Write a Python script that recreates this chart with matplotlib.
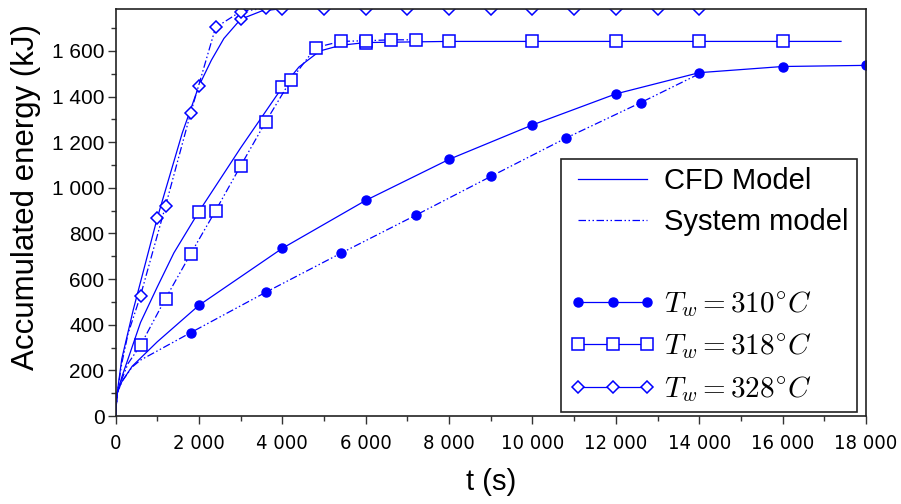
import matplotlib
matplotlib.use("Agg")
import matplotlib.pyplot as plt
from matplotlib.ticker import MultipleLocator, FuncFormatter
from matplotlib.lines import Line2D
from matplotlib import font_manager as fm

plt.rcParams['font.family'] = ['Liberation Sans', 'DejaVu Sans']
plt.rcParams['mathtext.fontset'] = 'cm'

# ---- data (time in s, accumulated energy in kJ) ----
t_cfd_310 = [0, 40, 150, 400, 1000, 2000, 4000, 6000, 8000, 10000, 12000, 14000, 16000, 18000]
e_cfd_310 = [0, 100, 150, 218, 325, 485, 735, 945, 1125, 1276, 1412, 1505, 1532, 1537]
mk_cfd_310 = [2000, 4000, 6000, 8000, 10000, 12000, 14000, 16000, 18000]

t_sys_310 = [0, 40, 150, 400, 600, 1800, 3600, 5400, 7200, 9000, 10800, 12600, 14000]
e_sys_310 = [0, 100, 150, 215, 245, 365, 542, 713, 880, 1050, 1218, 1374, 1500]
mk_sys_310 = [1800, 3600, 5400, 7200, 9000, 10800, 12600]

t_cfd_318 = [0, 40, 150, 300, 600, 1000, 1400, 2000, 3000, 4000, 4400, 4900, 5400, 6000,
             8000, 10000, 12000, 14000, 16000, 17400]
e_cfd_318 = [0, 100, 170, 250, 410, 565, 715, 896, 1175, 1441, 1530, 1600, 1625, 1637,
             1642, 1642, 1642, 1642, 1642, 1642]
mk_cfd_318 = [2000, 4000, 6000, 8000, 10000, 12000, 14000, 16000]

t_sys_318 = [0, 40, 150, 300, 600, 1200, 1800, 2400, 3000, 3600, 4200, 4800, 5400, 6000, 6600, 7200]
e_sys_318 = [0, 100, 160, 230, 310, 515, 710, 900, 1096, 1289, 1471, 1615, 1642, 1645, 1649, 1649]
mk_sys_318 = [600, 1200, 1800, 2400, 3000, 3600, 4200, 4800, 5400, 6000, 6600, 7200]

t_cfd_328 = [0, 40, 150, 425, 1000, 1600, 2000, 2300, 2600, 3000, 3500, 4000, 5000, 6000, 7000,
             8000, 9000, 10000, 11000, 12000, 13000, 14000]
e_cfd_328 = [0, 100, 250, 465, 867, 1240, 1447, 1560, 1655, 1739, 1775, 1786, 1786, 1786, 1786,
             1786, 1786, 1786, 1786, 1786, 1786, 1786]
mk_cfd_328 = [1000, 2000, 3000, 4000, 5000, 6000, 7000, 8000, 9000, 10000, 11000, 12000, 13000, 14000]

t_sys_328 = [0, 40, 150, 300, 600, 1200, 1800, 2400, 3000, 3600]
e_sys_328 = [0, 100, 230, 360, 528, 921, 1327, 1703, 1773, 1788]
mk_sys_328 = [600, 1200, 1800, 2400, 3000, 3600]

legend_labels = ['CFD Model', 'System model', '',
                 r'$T_w = 310^{\circ}C$', r'$T_w = 318^{\circ}C$', r'$T_w = 328^{\circ}C$']
x_label = 't (s)'
y_label = 'Accumulated energy (kJ)'

# ---- pick a narrow font for x tick labels if one exists ----
def narrow_font():
    try:
        fm.findfont(fm.FontProperties(family='Liberation Sans Narrow'), fallback_to_default=False)
        return dict(family='Liberation Sans Narrow', size=17)
    except Exception:
        pass
    try:
        p = fm.findfont(fm.FontProperties(family='DejaVu Sans', stretch='condensed'),
                        fallback_to_default=False)
        if 'ondensed' in p:
            return dict(family='DejaVu Sans', stretch='condensed', size=14.5)
    except Exception:
        pass
    return dict(family='Liberation Sans', size=14)

xt_font = narrow_font()

# ---- styles ----
BLUE = '#0000ff'
SOLID = '-'
DASHDOT = (0, (6, 2, 1.2, 2, 1.2, 2))
LW = 0.9
styles = {
    '310': dict(marker='o', ms=6.5, mfc=BLUE, mec=BLUE, mew=1.0),
    '318': dict(marker='s', ms=8, mfc='white', mec=BLUE, mew=1.1),
    '328': dict(marker='D', ms=6, mfc='white', mec=BLUE, mew=1.1),
}

fig = plt.figure(figsize=(9.01, 5.04), dpi=100)
ax = fig.add_axes([0.1282, 0.1746, 0.8330, 0.8066])

def plot_series(t, e, mk, key, ls):
    every = [i for i, v in enumerate(t) if v in mk]
    ax.plot(t, e, color=BLUE, lw=LW, ls=ls, markevery=every, clip_on=True, **styles[key])

plot_series(t_cfd_310, e_cfd_310, mk_cfd_310, '310', SOLID)
plot_series(t_sys_310, e_sys_310, mk_sys_310, '310', DASHDOT)
plot_series(t_cfd_318, e_cfd_318, mk_cfd_318, '318', SOLID)
plot_series(t_sys_318, e_sys_318, mk_sys_318, '318', DASHDOT)
plot_series(t_cfd_328, e_cfd_328, mk_cfd_328, '328', SOLID)
plot_series(t_sys_328, e_sys_328, mk_sys_328, '328', DASHDOT)

ax.set_xlim(0, 18000)
ax.set_ylim(0, 1782)
ax.xaxis.set_major_locator(MultipleLocator(2000))
ax.xaxis.set_minor_locator(MultipleLocator(1000))
ax.yaxis.set_major_locator(MultipleLocator(200))
ax.yaxis.set_minor_locator(MultipleLocator(100))
fmt = FuncFormatter(lambda v, p: f"{int(round(v)):,}".replace(",", " "))
ax.xaxis.set_major_formatter(fmt)
ax.yaxis.set_major_formatter(fmt)

ax.tick_params(which='major', direction='out', length=6, width=1.0, color='#333333')
ax.tick_params(which='minor', direction='out', length=3.5, width=1.0, color='#333333')
ax.tick_params(axis='x', which='major', pad=7)
ax.tick_params(axis='y', which='major', pad=2)
for lab in ax.get_xticklabels():
    lab.set_fontproperties(fm.FontProperties(**xt_font))
for lab in ax.get_yticklabels():
    lab.set_family(['Liberation Sans', 'DejaVu Sans'])
    lab.set_fontsize(15)
for sp in ax.spines.values():
    sp.set_linewidth(1.2)
    sp.set_color('#222222')

ax.set_xlabel(x_label, fontsize=21, labelpad=11)
ax.set_ylabel(y_label, fontsize=22.5)
ax.yaxis.set_label_coords(-0.099, 0.5375)

handles = [
    Line2D([], [], color=BLUE, lw=LW, ls=SOLID),
    Line2D([], [], color=BLUE, lw=LW, ls=DASHDOT),
    Line2D([], [], color='none', lw=0),
    Line2D([], [], color=BLUE, lw=LW, ls=SOLID, **styles['310']),
    Line2D([], [], color=BLUE, lw=LW, ls=SOLID, **styles['318']),
    Line2D([], [], color=BLUE, lw=LW, ls=SOLID, **styles['328']),
]
leg = ax.legend(handles, legend_labels, loc='lower right', bbox_to_anchor=(0.988, 0.010),
                borderaxespad=0, fontsize=21, numpoints=3, handlelength=2.95,
                handletextpad=0.3, labelspacing=0.43, borderpad=0.28,
                fancybox=False, framealpha=1, edgecolor='#222222')
leg.get_frame().set_linewidth(1.2)

fig.savefig('out.png', dpi=100)
